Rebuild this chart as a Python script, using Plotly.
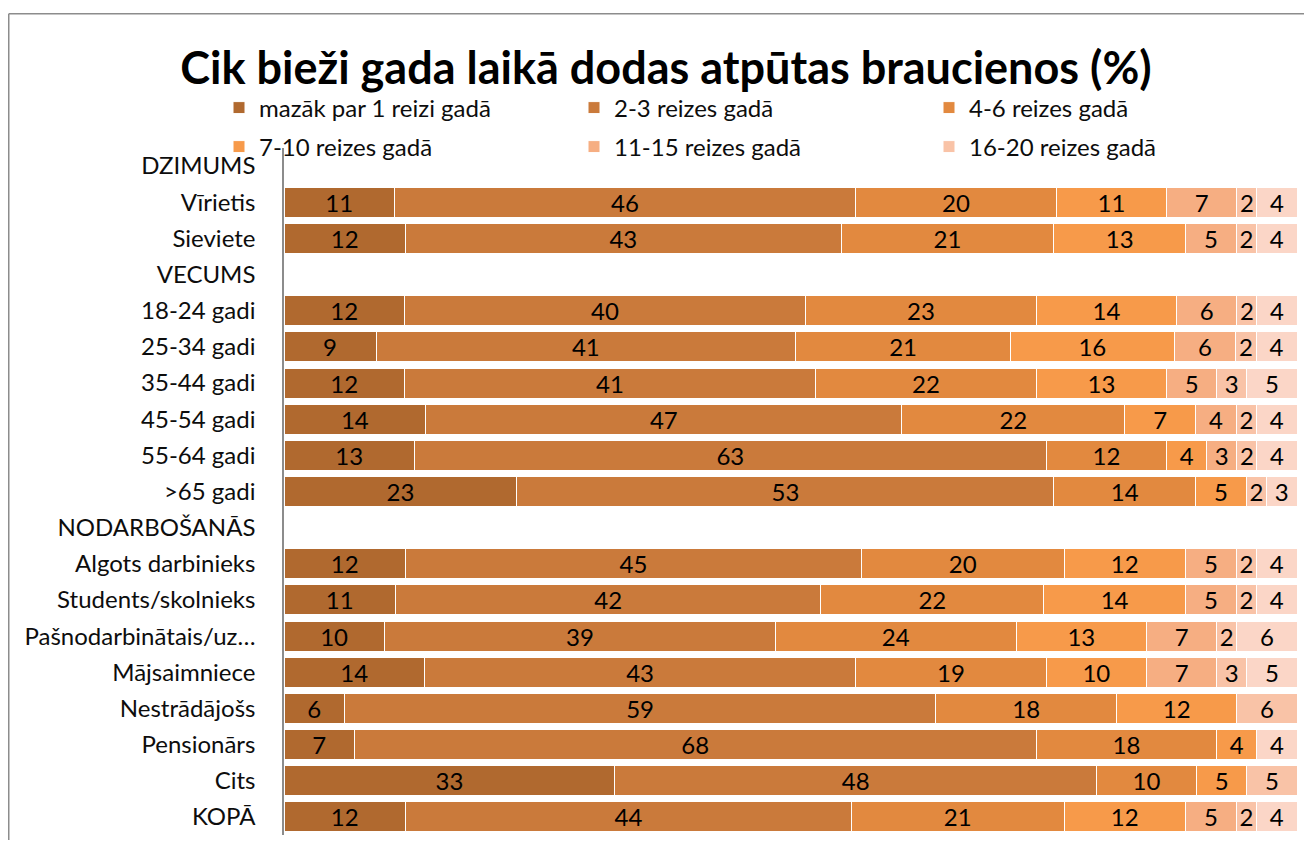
import plotly.graph_objects as go

categories = ["DZIMUMS", "Vīrietis", "Sieviete", "VECUMS", "18-24 gadi", "25-34 gadi",
              "35-44 gadi", "45-54 gadi", "55-64 gadi", ">65 gadi", "NODARBOŠANĀS",
              "Algots darbinieks", "Students/skolnieks", "Pašnodarbinātais/uz…",
              "Mājsaimniece", "Nestrādājošs", "Pensionārs", "Cits", "KOPĀ"]

series_names = ["mazāk par 1 reizi gadā", "2-3 reizes gadā", "4-6 reizes gadā",
                "7-10 reizes gadā", "11-15 reizes gadā", "16-20 reizes gadā",
                "vairāk nekā 20 reizes gadā"]

s_lt1 = [None, 11, 12, None, 12, 9, 12, 14, 13, 23, None, 12, 11, 10, 14, 6, 7, 33, 12]
s_2_3 = [None, 46, 43, None, 40, 41, 41, 47, 63, 53, None, 45, 42, 39, 43, 59, 68, 48, 44]
s_4_6 = [None, 20, 21, None, 23, 21, 22, 22, 12, 14, None, 20, 22, 24, 19, 18, 18, 10, 21]
s_7_10 = [None, 11, 13, None, 14, 16, 13, 7, 4, 5, None, 12, 14, 13, 10, 12, 4, 5, 12]
s_11_15 = [None, 7, 5, None, 6, 6, 5, 4, 3, None, None, 5, 5, 7, 7, None, None, None, 5]
s_16_20 = [None, 2, 2, None, 2, 2, 3, 2, 2, 2, None, 2, 2, 2, 3, 6, None, 5, 2]
s_gt20 = [None, 4, 4, None, 4, 4, 5, 4, 4, 3, None, 4, 4, 6, 5, None, 4, None, 4]

series_values = [s_lt1, s_2_3, s_4_6, s_7_10, s_11_15, s_16_20, s_gt20]
colors = ["#B0692F", "#CA7A3B", "#E2893F", "#F79A4A", "#F6AE82", "#F9C3A7", "#FBD6C7"]
legend_ids = ["legend", "legend", "legend", "legend2", "legend2", "legend2", None]

FONT = "Lato"
FS = 24

fig = go.Figure()
for name, vals, col, lg in zip(series_names, series_values, colors, legend_ids):
    fig.add_trace(go.Bar(
        y=categories, x=vals, name=name, orientation="h",
        marker=dict(color=col, line=dict(color="white", width=1)),
        text=[("" if v is None else str(v)) for v in vals],
        textposition="inside", insidetextanchor="middle", textangle=0,
        textfont=dict(family=FONT, size=FS, color="#000000"),
        showlegend=lg is not None,
        legend=lg if lg is not None else "legend",
        hoverinfo="skip",
    ))

# page has an 8px body margin; work in reference page pixels and shift
OFF = 8
W, H = 1312 - 2 * OFF, 848 - 2 * OFF
L = 284 - OFF
R = W - (1297 - OFF)
T = 148 - OFF
B = H - (835 - OFF)
pw, ph = W - L - R, H - T - B

def px_x(px):
    return (px - OFF - L) / pw

def px_y(py):
    return (H - B - (py - OFF)) / ph

border = dict(color="#8c8c8c", width=1.5)

fig.update_layout(
    width=W, height=H,
    margin=dict(l=L, r=R, t=T, b=B, pad=0),
    barmode="stack", barnorm="percent", bargap=0.17,
    plot_bgcolor="white", paper_bgcolor="white",
    font=dict(family=FONT, size=FS, color="#000000"),
    uniformtext=dict(minsize=FS, mode="show"),
    title=dict(text="<b>Cik bieži gada laikā dodas atpūtas braucienos (%)</b>",
               font=dict(family=FONT, size=45, color="#000000"),
               x=(666 - OFF) / W, xanchor="center", xref="container",
               y=(H - (68 - OFF)) / H, yanchor="middle", yref="container"),
    xaxis=dict(range=[0, 100], showgrid=False, zeroline=False, showticklabels=False,
               showline=False, ticks=""),
    yaxis=dict(categoryorder="array", categoryarray=categories, autorange="reversed",
               showgrid=False, zeroline=False, showline=True, linecolor="#8c8c8c",
               linewidth=1.5, ticks="", ticklabelstandoff=22,
               tickfont=dict(family=FONT, size=FS, color="#0d0d0d")),
    legend=dict(orientation="h", x=px_x(219), xanchor="left",
                y=px_y(108), yanchor="middle",
                entrywidth=310, entrywidthmode="pixels",
                font=dict(family=FONT, size=FS, color="#0d0d0d"),
                bgcolor="rgba(0,0,0,0)", traceorder="normal"),
    legend2=dict(orientation="h", x=px_x(219), xanchor="left",
                 y=px_y(147), yanchor="middle",
                 entrywidth=310, entrywidthmode="pixels",
                 font=dict(family=FONT, size=FS, color="#0d0d0d"),
                 bgcolor="rgba(0,0,0,0)", traceorder="normal"),
    shapes=[
        dict(type="line", xref="paper", yref="paper",
             x0=px_x(8.75), x1=px_x(1312), y0=px_y(13.75), y1=px_y(13.75), line=border),
        dict(type="line", xref="paper", yref="paper",
             x0=px_x(8.75), x1=px_x(8.75), y0=px_y(13.75), y1=px_y(848), line=border),
    ],
)

fig.write_html("out.html")
